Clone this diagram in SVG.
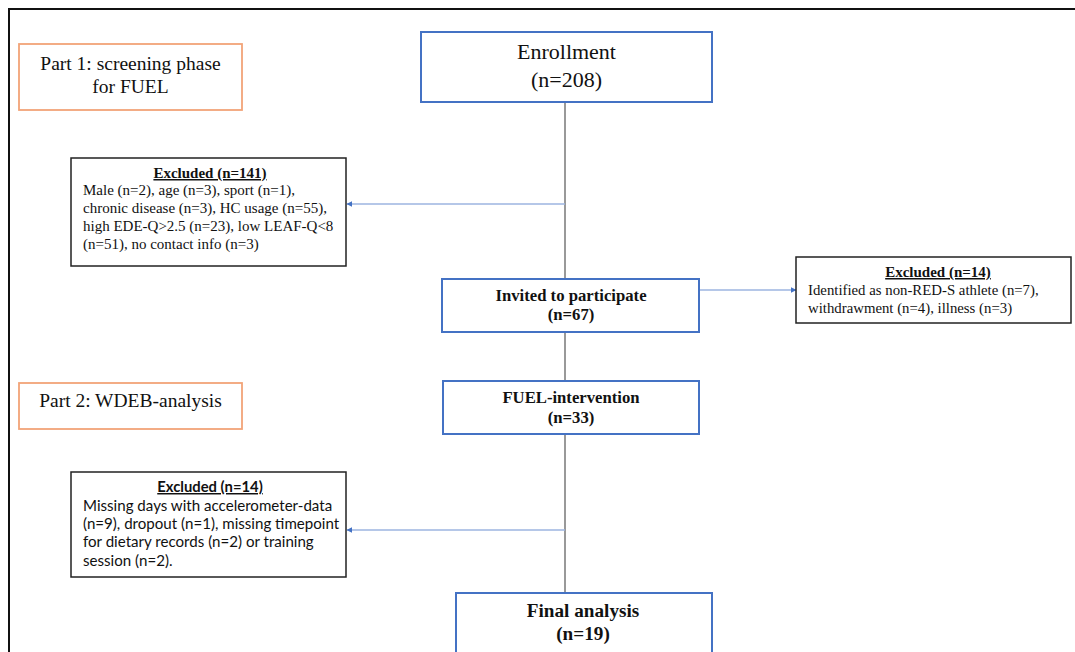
<svg xmlns="http://www.w3.org/2000/svg" width="1075" height="652" viewBox="0 0 1075 652">
<style>
.frame{fill:none;stroke:#111;stroke-width:2}
.part{fill:#fff;stroke:#F2A478;stroke-width:1.8}
.main{fill:#fff;stroke:#4472C4;stroke-width:2}
.excl{fill:#fff;stroke:#222;stroke-width:1.5}
.serif{font-family:"Liberation Serif","Times New Roman",serif;fill:#111}
.sans{font-family:Lato,"Open Sans","Liberation Sans",sans-serif;fill:#111}
.bold{font-weight:bold}
.ul{text-decoration:underline}
.mid{text-anchor:middle}
.trunk{stroke:#555;stroke-width:1.2;fill:none}
.arr{stroke:#9DB5E0;stroke-width:1.5;fill:none;marker-end:url(#ah)}
</style>
<defs>
<marker id="ah" viewBox="0 0 10 10" refX="9" refY="5" markerWidth="6" markerHeight="6" markerUnits="userSpaceOnUse" orient="auto">
<path d="M0,0 L10,5 L0,10 z" fill="#4472C4"/>
</marker>
</defs>
<rect width="1075" height="652" fill="#fff"/>
<path class="frame" d="M9,653 L9,9 L1076,9"/>
<g id="connectors">
<line class="trunk" x1="565" y1="102" x2="565" y2="593"/>
<line class="arr" x1="565" y1="204" x2="347" y2="204"/>
<line class="arr" x1="699" y1="290" x2="796" y2="290"/>
<line class="arr" x1="565" y1="530" x2="347" y2="530"/>
</g>
<g id="part1">
<rect class="part" x="19" y="44" width="223" height="66"/>
<text class="serif mid" x="130.5" y="70" font-size="19.5">Part 1: screening phase</text>
<text class="serif mid" x="130.5" y="93" font-size="19.5">for FUEL</text>
</g>
<g id="part2">
<rect class="part" x="19" y="383" width="223" height="46"/>
<text class="serif mid" x="130.5" y="407" font-size="19.5">Part 2: WDEB-analysis</text>
</g>
<g id="enrollment">
<rect class="main" x="421" y="32" width="291" height="70"/>
<text class="serif mid" x="566.5" y="59" font-size="22">Enrollment</text>
<text class="serif mid" x="566.5" y="87" font-size="22">(n=208)</text>
</g>
<g id="excluded1">
<rect class="excl" x="71" y="158" width="275" height="108"/>
<text class="serif bold ul mid" x="210" y="178" font-size="15">Excluded (n=141)</text>
<text class="serif" x="83" y="195" font-size="15">Male (n=2), age (n=3), sport (n=1),</text>
<text class="serif" x="83" y="213" font-size="15">chronic disease (n=3), HC usage (n=55),</text>
<text class="serif" x="83" y="231" font-size="15">high EDE-Q&gt;2.5 (n=23), low LEAF-Q&lt;8</text>
<text class="serif" x="83" y="249" font-size="15">(n=51), no contact info (n=3)</text>
</g>
<g id="invited">
<rect class="main" x="442" y="279" width="257" height="53"/>
<text class="serif bold mid" x="571" y="301" font-size="16.7">Invited to participate</text>
<text class="serif bold mid" x="571" y="320" font-size="16.7">(n=67)</text>
</g>
<g id="excluded2">
<rect class="excl" x="796" y="257" width="275" height="66"/>
<text class="serif bold ul mid" x="938" y="277" font-size="15">Excluded (n=14)</text>
<text class="serif" x="808" y="295" font-size="14.8">Identified as non-RED-S athlete (n=7),</text>
<text class="serif" x="808" y="313" font-size="14.8">withdrawment (n=4), illness (n=3)</text>
</g>
<g id="intervention">
<rect class="main" x="443" y="381" width="256" height="53"/>
<text class="serif bold mid" x="571" y="403" font-size="16.7">FUEL-intervention</text>
<text class="serif bold mid" x="571" y="423" font-size="16.7">(n=33)</text>
</g>
<g id="excluded3">
<rect class="excl" x="71" y="472" width="275" height="105"/>
<text class="sans bold ul mid" x="210" y="492" font-size="14.8">Excluded (n=14)</text>
<text class="sans" x="83" y="511" font-size="15.1">Missing days with accelerometer-data</text>
<text class="sans" x="83" y="529" font-size="15.1">(n=9), dropout (n=1), missing timepoint</text>
<text class="sans" x="83" y="547" font-size="15.1">for dietary records (n=2) or training</text>
<text class="sans" x="83" y="566" font-size="15.1">session (n=2).</text>
</g>
<g id="final">
<rect class="main" x="456" y="593" width="256" height="70"/>
<text class="serif bold mid" x="583" y="617" font-size="19.2">Final analysis</text>
<text class="serif bold mid" x="583" y="640" font-size="19.2">(n=19)</text>
</g>
</svg>
